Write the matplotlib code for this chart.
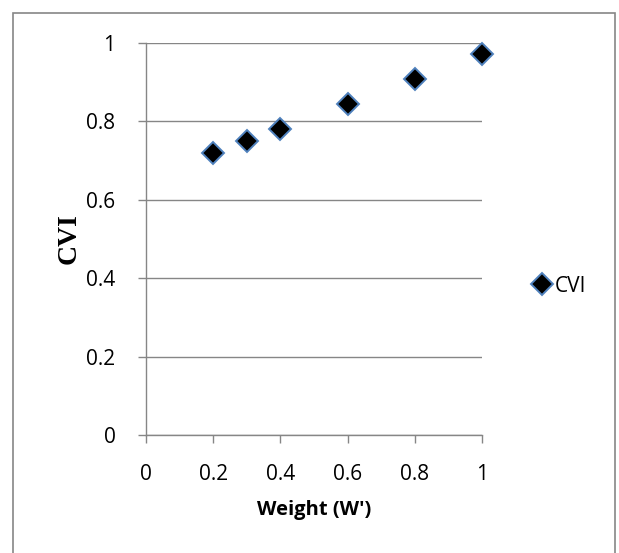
import matplotlib
matplotlib.use("Agg")
from matplotlib import pyplot as plt
from matplotlib.patches import Rectangle

weights = [0.2, 0.3, 0.4, 0.6, 0.8, 1.0]
cvi = [0.718, 0.749, 0.781, 0.844, 0.907, 0.970]
x_ticks = [0, 0.2, 0.4, 0.6, 0.8, 1]
y_ticks = [0, 0.2, 0.4, 0.6, 0.8, 1]
tick_labels = ["0", "0.2", "0.4", "0.6", "0.8", "1"]

grey = "#868686"
W, H = 619, 553

fig = plt.figure(figsize=(W / 100, H / 100), dpi=100)
ax = fig.add_axes([146 / W, 1 - 435 / H, (482 - 146) / W, (435 - 42.7) / H])

# Excel style scatter
ax.plot(weights, cvi, linestyle="none", marker="D", markersize=11,
        markerfacecolor="black", markeredgecolor="#4F81BD",
        markeredgewidth=1.4, label="CVI", clip_on=False, zorder=3)

ax.set_xlim(0, 1)
ax.set_ylim(0, 1)
ax.set_xticks(x_ticks)
ax.set_yticks(y_ticks)
ax.set_xticklabels(tick_labels, fontfamily="Open Sans", fontsize=15)
ax.set_yticklabels(tick_labels, fontfamily="Open Sans", fontsize=15)

ax.grid(axis="y", color=grey, linewidth=1.0)
ax.set_axisbelow(True)
for side in ["top", "right"]:
    ax.spines[side].set_visible(False)
for side in ["left", "bottom"]:
    ax.spines[side].set_color(grey)
    ax.spines[side].set_linewidth(1.0)
ax.tick_params(axis="both", direction="out", length=6, width=1.0, color=grey)
ax.tick_params(axis="y", pad=16)
ax.tick_params(axis="x", pad=15)

ax.set_xlabel("Weight (W')", fontfamily="Open Sans", fontweight="bold",
              fontsize=14.5, labelpad=11)
ax.set_ylabel("CVI", fontfamily="Liberation Serif", fontweight="bold",
              fontsize=20, labelpad=3)

ax.legend(loc="center left", bbox_to_anchor=(513 / W, 1 - 286 / H),
          bbox_transform=fig.transFigure, frameon=False, handletextpad=0.1,
          handlelength=1.0, prop={"family": "Open Sans", "size": 15})

# outer chart border (bottom edge falls off the image)
fig.patches.append(Rectangle((12.5 / W, -0.05), (614.5 - 12.5) / W,
                             1 - 13 / H + 0.05, transform=fig.transFigure,
                             fill=False, edgecolor=grey, linewidth=1.2))

fig.savefig("out.png", dpi=100)
